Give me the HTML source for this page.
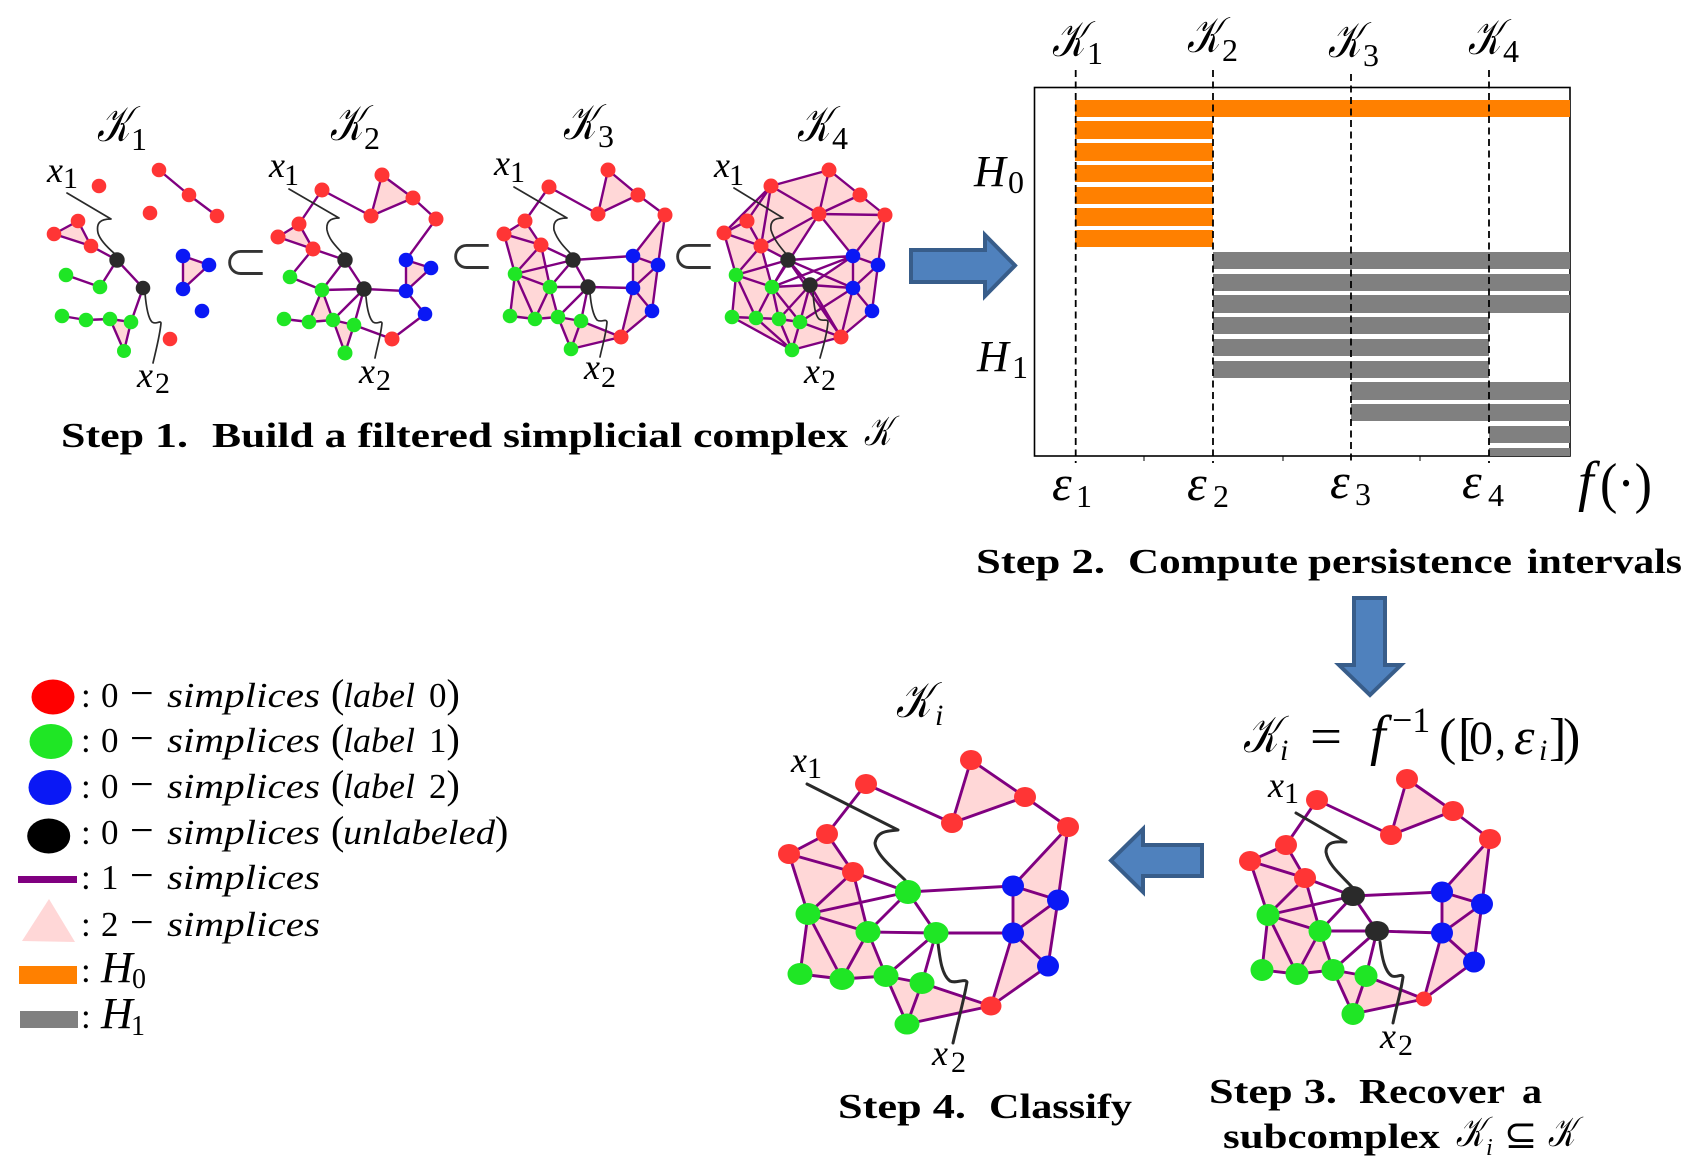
<!DOCTYPE html>
<html><head><meta charset="utf-8"><title>Persistence pipeline</title>
<style>
html,body{margin:0;padding:0;background:#fff}
svg{display:block}
text{font-family:"Liberation Serif",serif;fill:#000}
.k{font-family:"DejaVu Serif","Liberation Serif",serif;font-style:italic}
.i{font-style:italic}
.b{font-weight:bold}
.e{fill:none;stroke:#800080;stroke-width:2.4;stroke-linejoin:round;stroke-linecap:round}
.e2{fill:none;stroke:#800080;stroke-width:2.9;stroke-linejoin:round;stroke-linecap:round}
.p{fill:#ffd7d7;stroke:none}
.s{fill:none;stroke:#2a2a2a;stroke-width:1.7;stroke-linecap:round;stroke-linejoin:round}
.s2{fill:none;stroke:#2a2a2a;stroke-width:3;stroke-linecap:round;stroke-linejoin:round}
.r{fill:#ff3535}.g{fill:#1fe625}.bl{fill:#0a18f5}.d{fill:#2a2a2a}
.a{fill:#4f81bd;stroke:#385d8a;stroke-width:4}
.o{fill:#ff8000}.y{fill:#808080}
.dash{stroke:#000;stroke-width:1.8;stroke-dasharray:7 4.5;fill:none}
.t{stroke:#000;stroke-width:1;fill:none}
.u{font-family:"DejaVu Sans",sans-serif;fill:#333;stroke:#fff;stroke-width:1.2}
</style></head>
<body>
<svg width="1700" height="1172" viewBox="0 0 1700 1172" xmlns="http://www.w3.org/2000/svg">
<rect width="1700" height="1172" fill="#fff"/>

<!-- K1 -->
<path class="p" d="M78,221L54,234L91,246Z M183,256L209,265L183,289Z M110,319L131,322L124,351Z"/>
<path class="e" d="M159,170L189,195L217,216 M78,221L54,234L91,246L78,221 M91,246L117,260L143,288 M117,260L100,287L66,275 M143,288L131,322 M183,256L209,265L183,289L183,256 M62,316L86,320L110,319L131,322L124,351L110,319"/>
<path class="s" d="M67,193L111,219C100,219 96,223 98,233C100,240 108,248 115,254"/>
<path class="s" d="M145,293C146,305 148,318 152,322C156,325 160,320 161,323C160,335 156,350 153,363"/>
<g class="r"><circle cx="99" cy="186" r="7.3"/><circle cx="159" cy="170" r="7.3"/><circle cx="189" cy="195" r="7.3"/><circle cx="217" cy="216" r="7.3"/><circle cx="150" cy="213" r="7.3"/><circle cx="78" cy="221" r="7.3"/><circle cx="54" cy="234" r="7.3"/><circle cx="91" cy="246" r="7.3"/><circle cx="170" cy="339" r="7.3"/></g>
<g class="g"><circle cx="66" cy="275" r="7.3"/><circle cx="100" cy="287" r="7.3"/><circle cx="62" cy="316" r="7.3"/><circle cx="86" cy="320" r="7.3"/><circle cx="110" cy="319" r="7.3"/><circle cx="131" cy="322" r="7.3"/><circle cx="124" cy="351" r="7"/></g>
<g class="bl"><circle cx="183" cy="256" r="7.3"/><circle cx="209" cy="265" r="7.3"/><circle cx="183" cy="289" r="7.3"/><circle cx="202" cy="311" r="7.3"/></g>
<g class="d"><circle cx="117" cy="260" r="7.7"/><circle cx="143" cy="288" r="7.3"/></g>

<!-- K2 -->
<path class="p" d="M299,224L278,237L313,249Z M382,175L413,198L371,216Z M406,260L431,268L406,291Z M322,290L309,322L333,320Z M333,320L354,325L345,353Z"/>
<path class="e" d="M322,190L299,224 M322,190L371,216L382,175L413,198L371,216 M413,198L436,219L406,260L431,268L406,291L406,260 M406,291L425,314L392,339L354,325L333,320L309,322L284,319 M299,224L278,237L313,249L299,224 M313,249L345,260 M313,249L290,277L322,290L345,260L364,289L322,290 M364,289L406,291 M322,290L309,322 M322,290L333,320 M364,289L333,320 M364,289L354,325 M333,320L345,353L354,325"/>
<path class="s" d="M289,189L339,218C330,218 326,222 327,230C329,240 336,246 343,254"/>
<path class="s" d="M366,297C367,308 369,318 373,322C377,325 381,320 382,323C381,335 377,347 375,358"/>
<g class="r"><circle cx="322" cy="190" r="7.5"/><circle cx="382" cy="175" r="7.5"/><circle cx="413" cy="198" r="7.5"/><circle cx="371" cy="216" r="7.5"/><circle cx="436" cy="219" r="7.5"/><circle cx="299" cy="224" r="7.5"/><circle cx="278" cy="237" r="7.5"/><circle cx="313" cy="249" r="7.5"/><circle cx="392" cy="339" r="7.5"/></g>
<g class="g"><circle cx="290" cy="277" r="7.3"/><circle cx="322" cy="290" r="7.3"/><circle cx="284" cy="319" r="7.3"/><circle cx="309" cy="322" r="7.3"/><circle cx="333" cy="320" r="7.3"/><circle cx="354" cy="325" r="7.3"/><circle cx="345" cy="353" r="7.5"/></g>
<g class="bl"><circle cx="406" cy="260" r="7.3"/><circle cx="431" cy="268" r="7.3"/><circle cx="406" cy="291" r="7.3"/><circle cx="425" cy="314" r="7.3"/></g>
<g class="d"><circle cx="345" cy="260" r="7.7"/><circle cx="364" cy="289" r="7.7"/></g>

<!-- K3 -->
<path class="p" d="M608,170L638,195L598,214Z M665,215L633,256L658,265Z M633,256L658,265L633,288Z M658,265L652,311L633,288Z M633,288L652,311L621,337Z M525,221L504,234L541,245Z M504,234L515,274L541,245Z M541,245L515,274L550,287Z M515,274L550,287L535,319Z M515,274L510,316L535,319Z M550,287L535,319L558,317Z M558,317L581,321L571,349Z M581,321L571,349L621,337Z"/>
<path class="e" d="M549,187L525,221 M549,187L598,214L608,170L638,195L598,214 M638,195L665,215L633,256L658,265L665,215 M633,256L633,288L658,265L652,311L633,288L621,337L652,311 M525,221L504,234L541,245L525,221 M504,234L515,274L541,245L573,260L515,274L550,287L541,245 M550,287L573,260L588,287L550,287 M515,274L510,316L535,319L515,274 M535,319L550,287L558,317L535,319 M573,260L633,256 M588,287L633,288 M588,287L558,317 M588,287L581,321L571,349L558,317L581,321L621,337L571,349"/>
<path class="s" d="M514,187L567,218C556,218 553,222 554,230C557,240 565,248 572,255"/>
<path class="s" d="M590,293C591,305 593,315 597,320C601,323 606,318 607,322C606,335 602,347 600,357"/>
<g class="r"><circle cx="549" cy="187" r="7.5"/><circle cx="608" cy="170" r="7.5"/><circle cx="638" cy="195" r="7.5"/><circle cx="598" cy="214" r="7.5"/><circle cx="665" cy="215" r="7.5"/><circle cx="525" cy="221" r="7.5"/><circle cx="504" cy="234" r="7.5"/><circle cx="541" cy="245" r="7.5"/><circle cx="621" cy="337" r="7.5"/></g>
<g class="g"><circle cx="515" cy="274" r="7.3"/><circle cx="550" cy="287" r="7.3"/><circle cx="510" cy="316" r="7.3"/><circle cx="535" cy="319" r="7.3"/><circle cx="558" cy="317" r="7.3"/><circle cx="581" cy="321" r="7.3"/><circle cx="571" cy="349" r="7.3"/></g>
<g class="bl"><circle cx="633" cy="256" r="7.3"/><circle cx="658" cy="265" r="7.3"/><circle cx="633" cy="288" r="7.3"/><circle cx="652" cy="311" r="7.3"/></g>
<g class="d"><circle cx="573" cy="260" r="7.7"/><circle cx="588" cy="287" r="7.7"/></g>

<!-- K4 -->
<path class="p" d="M771,186L829,170L819,214Z M829,170L860,195L819,214Z M860,195L885,215L819,214Z M819,214L885,215L853,256Z M885,215L853,256L878,265Z M853,256L878,265L853,288Z M878,265L872,311L853,288Z M853,288L872,311L841,337Z M771,186L819,214L761,246Z M771,186L724,233L761,246Z M819,214L761,246L788,260Z M724,233L736,275L761,246Z M761,246L736,275L772,287Z M736,275L772,287L756,318Z M736,275L732,317L756,318Z M732,317L756,318L792,350Z M756,318L779,319L792,350Z M772,287L756,318L779,319Z M779,319L800,322L792,350Z M800,322L792,350L841,337Z M772,287L810,285L779,319Z M810,285L800,322L841,337Z M810,285L853,288L841,337Z M810,285L853,256L853,288Z M779,319L810,285L800,322Z"/>
<path class="e" d="M771,186L829,170L860,195L885,215L853,256L878,265L885,215 M771,186L819,214L829,170 M860,195L819,214L885,215 M819,214L853,256 M819,214L772,287 M819,214L761,246 M771,186L724,233 M771,186L747,221 M771,186L761,246 M747,221L724,233L761,246L747,221 M724,233L736,275L761,246L788,260L736,275L772,287L761,246 M772,287L788,260L810,285L772,287 M788,260L853,256L853,288L878,265L872,311L853,288L841,337L872,311 M772,287L853,256 M810,285L853,256 M788,260L853,288 M810,285L853,288 M788,260L841,337 M736,275L732,317L756,318L736,275 M756,318L772,287L779,319L756,318 M772,287L800,322 M810,285L779,319 M810,285L800,322 M810,285L841,337 M853,288L800,322 M779,319L800,322L792,350L779,319 M732,317L792,350L756,318 M800,322L841,337L792,350"/>
<path class="s" d="M734,188L783,218C773,218 770,222 771,230C774,240 781,248 787,255"/>
<path class="s" d="M813,293C814,305 815,315 819,319C823,322 827,318 828,322C827,335 823,347 820,358"/>
<g class="r"><circle cx="771" cy="186" r="7.5"/><circle cx="829" cy="170" r="7.5"/><circle cx="860" cy="195" r="7.5"/><circle cx="819" cy="214" r="7.5"/><circle cx="885" cy="215" r="7.5"/><circle cx="747" cy="221" r="7.5"/><circle cx="724" cy="233" r="7.5"/><circle cx="761" cy="246" r="7.5"/><circle cx="841" cy="337" r="7.5"/></g>
<g class="g"><circle cx="736" cy="275" r="7.3"/><circle cx="772" cy="287" r="7.3"/><circle cx="732" cy="317" r="7.3"/><circle cx="756" cy="318" r="7.3"/><circle cx="779" cy="319" r="7.3"/><circle cx="800" cy="322" r="7.3"/><circle cx="792" cy="350" r="7.3"/></g>
<g class="bl"><circle cx="853" cy="256" r="7.3"/><circle cx="878" cy="265" r="7.3"/><circle cx="853" cy="288" r="7.3"/><circle cx="872" cy="311" r="7.3"/></g>
<g class="d"><circle cx="788" cy="260" r="7.7"/><circle cx="810" cy="285" r="7.7"/></g>

<!-- top labels -->
<text class="k" x="97" y="141" font-size="50" textLength="33" lengthAdjust="spacingAndGlyphs">𝒦</text><text x="131" y="150" font-size="32">1</text>
<text class="k" x="330" y="140" font-size="50" textLength="33" lengthAdjust="spacingAndGlyphs">𝒦</text><text x="364" y="149" font-size="32">2</text>
<text class="k" x="563" y="139" font-size="50" textLength="33" lengthAdjust="spacingAndGlyphs">𝒦</text><text x="598" y="147" font-size="32">3</text>
<text class="k" x="797" y="141" font-size="50" textLength="33" lengthAdjust="spacingAndGlyphs">𝒦</text><text x="832" y="149" font-size="32">4</text>

<text class="i" x="47" y="182" font-size="36">x</text><text x="63" y="188" font-size="30">1</text>
<text class="i" x="137" y="387" font-size="36">x</text><text x="155" y="393" font-size="30">2</text>
<text class="i" x="269" y="177" font-size="36">x</text><text x="284" y="185" font-size="30">1</text>
<text class="i" x="359" y="383" font-size="36">x</text><text x="376" y="390" font-size="30">2</text>
<text class="i" x="494" y="175" font-size="36">x</text><text x="510" y="182" font-size="30">1</text>
<text class="i" x="584" y="379" font-size="36">x</text><text x="601" y="387" font-size="30">2</text>
<text class="i" x="714" y="177" font-size="36">x</text><text x="729" y="185" font-size="30">1</text>
<text class="i" x="804" y="383" font-size="36">x</text><text x="821" y="390" font-size="30">2</text>

<text class="u" x="222" y="280" font-size="56">⊂</text>
<text class="u" x="448" y="274" font-size="56">⊂</text>
<text class="u" x="670" y="274" font-size="56">⊂</text>

<text class="b" x="61" y="447" font-size="35" textLength="127" lengthAdjust="spacingAndGlyphs">Step 1.</text>
<text class="b" x="212" y="447" font-size="35" textLength="636" lengthAdjust="spacingAndGlyphs">Build a filtered simplicial complex</text>
<text class="k" x="864" y="445" font-size="42" textLength="27" lengthAdjust="spacingAndGlyphs">𝒦</text>

<!-- right arrow -->
<polygon class="a" points="911,250 985,250 985,235 1015,265.5 985,296 985,282 911,282"/>

<!-- chart -->
<rect x="1034.5" y="87.5" width="535.5" height="368.5" fill="#fff" stroke="#000" stroke-width="1.6"/>
<g class="o">
<rect x="1075" y="100" width="495" height="17"/>
<rect x="1075" y="121" width="138" height="18"/>
<rect x="1075" y="143" width="138" height="18"/>
<rect x="1075" y="165" width="138" height="17"/>
<rect x="1075" y="187" width="138" height="17"/>
<rect x="1075" y="208" width="138" height="18"/>
<rect x="1075" y="230" width="138" height="17"/>
</g>
<g class="y">
<rect x="1213" y="252" width="357" height="17"/>
<rect x="1213" y="274" width="357" height="17"/>
<rect x="1213" y="295" width="357" height="18"/>
<rect x="1213" y="317" width="276" height="17"/>
<rect x="1213" y="339" width="276" height="17"/>
<rect x="1213" y="361" width="276" height="17"/>
<rect x="1351" y="382" width="219" height="18"/>
<rect x="1351" y="404" width="219" height="17"/>
<rect x="1489" y="426" width="81" height="17"/>
<rect x="1489" y="448" width="81" height="8"/>
</g>
<path class="dash" d="M1075.7,70V463 M1213,70V463 M1351,74V463 M1489,70V463"/>
<path class="t" d="M1144,456V461 M1283,456V461 M1420,456V461"/>

<text class="k" x="1052" y="56" font-size="50" textLength="33" lengthAdjust="spacingAndGlyphs">𝒦</text><text x="1087" y="64" font-size="32">1</text>
<text class="k" x="1187" y="52" font-size="50" textLength="33" lengthAdjust="spacingAndGlyphs">𝒦</text><text x="1222" y="61" font-size="32">2</text>
<text class="k" x="1328" y="57" font-size="50" textLength="33" lengthAdjust="spacingAndGlyphs">𝒦</text><text x="1363" y="66" font-size="32">3</text>
<text class="k" x="1468" y="54" font-size="50" textLength="33" lengthAdjust="spacingAndGlyphs">𝒦</text><text x="1503" y="62" font-size="32">4</text>

<text class="i" x="974" y="186" font-size="44">H</text><text x="1008" y="193" font-size="32">0</text>
<text class="i" x="977" y="371" font-size="44">H</text><text x="1012" y="378" font-size="32">1</text>

<text class="i" x="1052" y="500" font-size="50">ε</text><text x="1076" y="507" font-size="32">1</text>
<text class="i" x="1187" y="500" font-size="50">ε</text><text x="1213" y="507" font-size="32">2</text>
<text class="i" x="1330" y="498" font-size="50">ε</text><text x="1355" y="505" font-size="32">3</text>
<text class="i" x="1462" y="498" font-size="50">ε</text><text x="1488" y="506" font-size="32">4</text>
<text class="i" x="1578" y="500" font-size="56">f</text><text x="1600" y="502" font-size="56" textLength="52" lengthAdjust="spacingAndGlyphs">(·)</text>

<text class="b" x="976" y="573" font-size="35" textLength="129" lengthAdjust="spacingAndGlyphs">Step 2.</text>
<text class="b" x="1128" y="573" font-size="35" textLength="170" lengthAdjust="spacingAndGlyphs">Compute</text>
<text class="b" x="1308" y="573" font-size="35" textLength="204" lengthAdjust="spacingAndGlyphs">persistence</text>
<text class="b" x="1527" y="573" font-size="35" textLength="155" lengthAdjust="spacingAndGlyphs">intervals</text>

<!-- down arrow -->
<polygon class="a" points="1354,598 1354,665 1339,665 1370,695 1401,665 1385,665 1385,598"/>

<!-- formula -->
<text class="k" x="1243" y="752" font-size="52" textLength="35" lengthAdjust="spacingAndGlyphs">𝒦</text><text class="i" x="1280" y="760" font-size="30">i</text>
<text x="1310" y="754" font-size="52" textLength="32" lengthAdjust="spacingAndGlyphs">=</text>
<text class="i" x="1370" y="754" font-size="56">f</text>
<text x="1392" y="732" font-size="36">−1</text>
<text x="1439" y="754" font-size="52">(</text>
<text x="1458" y="754" font-size="52">[</text>
<text x="1469" y="754" font-size="48">0</text>
<text x="1495" y="754" font-size="44">,</text>
<text class="i" x="1514" y="754" font-size="52">ε</text>
<text class="i" x="1539" y="760" font-size="30">i</text>
<text x="1549" y="754" font-size="52">]</text>
<text x="1563" y="754" font-size="52">)</text>

<!-- Step 3 complex -->
<path class="p" d="M1407,779L1453,811L1391,835Z M1490,839L1442,892L1482,904Z M1442,892L1482,904L1442,933Z M1482,904L1474,962L1442,933Z M1442,933L1474,962L1424,999Z M1286,845L1250,861L1305,878Z M1250,861L1268,915L1305,878Z M1305,878L1268,915L1320,931Z M1268,915L1320,931L1297,974Z M1268,915L1262,970L1297,974Z M1320,931L1297,974L1333,970Z M1333,970L1366,976L1353,1014Z M1366,976L1353,1014L1424,999Z"/>
<path class="e2" d="M1317,800L1286,845 M1317,800L1391,835L1407,779L1453,811L1391,835 M1453,811L1490,839L1442,892L1482,904L1490,839 M1442,892L1442,933L1482,904L1474,962L1442,933L1424,999L1474,962 M1286,845L1250,861L1305,878L1286,845 M1250,861L1268,915L1305,878L1353,896L1268,915L1320,931L1305,878 M1320,931L1353,896L1377,931L1320,931 M1268,915L1262,970L1297,974L1268,915 M1297,974L1320,931L1333,970L1297,974 M1353,896L1442,892 M1377,931L1442,933 M1377,931L1333,970 M1377,931L1366,976L1353,1014L1333,970L1366,976L1424,999L1353,1014"/>
<path class="s2" d="M1296,813L1346,842C1335,841 1326,842 1326,852C1328,865 1342,876 1352,887"/>
<path class="s2" d="M1380,942C1382,958 1385,972 1392,976C1397,978 1402,973 1403,977C1401,992 1396,1008 1393,1023"/>
<g class="r"><ellipse cx="1317" cy="800" rx="11" ry="10"/><ellipse cx="1407" cy="779" rx="11" ry="10"/><ellipse cx="1453" cy="811" rx="11" ry="10"/><ellipse cx="1391" cy="835" rx="11" ry="10"/><ellipse cx="1490" cy="839" rx="11" ry="10"/><ellipse cx="1286" cy="845" rx="11" ry="10"/><ellipse cx="1250" cy="861" rx="11" ry="10"/><ellipse cx="1305" cy="878" rx="11" ry="10"/><ellipse cx="1424" cy="999" rx="8" ry="7.5"/></g>
<g class="g"><ellipse cx="1268" cy="915" rx="11.5" ry="11"/><ellipse cx="1320" cy="931" rx="11.5" ry="11"/><ellipse cx="1262" cy="970" rx="11.5" ry="11"/><ellipse cx="1297" cy="974" rx="11.5" ry="11"/><ellipse cx="1333" cy="970" rx="11.5" ry="11"/><ellipse cx="1366" cy="976" rx="11.5" ry="11"/><ellipse cx="1353" cy="1014" rx="11.5" ry="11"/></g>
<g class="bl"><ellipse cx="1442" cy="892" rx="11" ry="10.5"/><ellipse cx="1482" cy="904" rx="11" ry="10.5"/><ellipse cx="1442" cy="933" rx="11" ry="10.5"/><ellipse cx="1474" cy="962" rx="11" ry="10.5"/></g>
<g class="d"><ellipse cx="1353" cy="896" rx="12" ry="10"/><ellipse cx="1377" cy="931" rx="12" ry="10"/></g>
<text class="i" x="1268" y="797" font-size="36">x</text><text x="1284" y="803" font-size="30">1</text>
<text class="i" x="1380" y="1048" font-size="36">x</text><text x="1398" y="1055" font-size="30">2</text>
<text class="b" x="1209" y="1103" font-size="35" textLength="128" lengthAdjust="spacingAndGlyphs">Step 3.</text>
<text class="b" x="1359" y="1103" font-size="35" textLength="146" lengthAdjust="spacingAndGlyphs">Recover</text>
<text class="b" x="1522" y="1103" font-size="35" textLength="20" lengthAdjust="spacingAndGlyphs">a</text>
<text class="b" x="1223" y="1148" font-size="35" textLength="217" lengthAdjust="spacingAndGlyphs">subcomplex</text>
<text class="k" x="1456" y="1146" font-size="42" textLength="28" lengthAdjust="spacingAndGlyphs">𝒦</text><text class="i" x="1486" y="1155" font-size="24">i</text>
<text style="font-family:'DejaVu Sans',sans-serif" x="1504" y="1148" font-size="40">⊆</text>
<text class="k" x="1548" y="1146" font-size="42" textLength="27" lengthAdjust="spacingAndGlyphs">𝒦</text>

<!-- left arrow -->
<polygon class="a" points="1202,845 1143,845 1143,829 1111,860.5 1143,892 1143,876 1202,876"/>

<!-- Step 4 complex -->
<text class="k" x="896" y="717" font-size="50" textLength="35" lengthAdjust="spacingAndGlyphs">𝒦</text><text class="i" x="935" y="725" font-size="30">i</text>
<path class="p" d="M971,760L1025,797L952,823Z M1068,827L1013,886L1058,900Z M1013,886L1058,900L1013,933Z M1058,900L1048,966L1013,933Z M1013,933L1048,966L991,1006Z M827,834L789,854L853,872Z M789,854L808,914L853,872Z M853,872L808,914L868,932Z M808,914L868,932L842,979Z M808,914L800,974L842,979Z M868,932L842,979L886,976Z M886,976L922,983L907,1024Z M922,983L907,1024L991,1006Z"/>
<path class="e2" d="M866,784L827,834 M866,784L952,823L971,760L1025,797L952,823 M1025,797L1068,827L1013,886L1058,900L1068,827 M1013,886L1013,933L1058,900L1048,966L1013,933L991,1006L1048,966 M827,834L789,854L853,872L827,834 M789,854L808,914L853,872L908,892L808,914L868,932L853,872 M868,932L908,892L936,933L868,932 M808,914L800,974L842,979L808,914 M842,979L868,932L886,976L842,979 M908,892L1013,886 M936,933L1013,933 M936,933L886,976 M936,933L922,983L907,1024L886,976L922,983L991,1006L907,1024"/>
<path class="s2" d="M807,784L898,830C885,831 877,832 875,843C876,855 895,870 905,880"/>
<path class="s2" d="M938,943C940,960 942,975 950,981C956,984 965,978 967,982C964,1000 957,1025 953,1043"/>
<g class="r"><ellipse cx="866" cy="784" rx="11" ry="10"/><ellipse cx="971" cy="760" rx="11" ry="10"/><ellipse cx="1025" cy="797" rx="11" ry="10"/><ellipse cx="952" cy="823" rx="11" ry="10"/><ellipse cx="1068" cy="827" rx="11" ry="10"/><ellipse cx="827" cy="834" rx="11" ry="10"/><ellipse cx="789" cy="854" rx="11" ry="10"/><ellipse cx="853" cy="872" rx="11" ry="10"/><ellipse cx="991" cy="1006" rx="10.5" ry="9.5"/></g>
<g class="g"><ellipse cx="908" cy="892" rx="13" ry="12"/><ellipse cx="936" cy="933" rx="12.5" ry="11"/><ellipse cx="808" cy="914" rx="12.5" ry="11"/><ellipse cx="868" cy="932" rx="12.5" ry="11"/><ellipse cx="800" cy="974" rx="12.5" ry="11"/><ellipse cx="842" cy="979" rx="12.5" ry="11"/><ellipse cx="886" cy="976" rx="12.5" ry="11"/><ellipse cx="922" cy="983" rx="12.5" ry="11"/><ellipse cx="907" cy="1024" rx="12.5" ry="10.5"/></g>
<g class="bl"><ellipse cx="1013" cy="886" rx="11" ry="10.5"/><ellipse cx="1058" cy="900" rx="11" ry="10.5"/><ellipse cx="1013" cy="933" rx="11" ry="10.5"/><ellipse cx="1048" cy="966" rx="11" ry="10.5"/></g>
<text class="i" x="791" y="772" font-size="36">x</text><text x="807" y="778" font-size="30">1</text>
<text class="i" x="932" y="1065" font-size="36">x</text><text x="951" y="1072" font-size="30">2</text>
<text class="b" x="838" y="1118" font-size="35" textLength="128" lengthAdjust="spacingAndGlyphs">Step 4.</text>
<text class="b" x="989" y="1118" font-size="35" textLength="143" lengthAdjust="spacingAndGlyphs">Classify</text>

<!-- legend -->
<ellipse cx="53" cy="697" rx="21.5" ry="17.5" fill="#ff0000"/>
<ellipse cx="51" cy="741.5" rx="21.5" ry="17.5" fill="#1fe625"/>
<ellipse cx="50" cy="787.5" rx="21.5" ry="17.5" fill="#0a18f5"/>
<ellipse cx="48.7" cy="836" rx="21.5" ry="17.5" fill="#000"/>
<rect x="18" y="876" width="59" height="7" fill="#800080"/>
<polygon points="49,899 75,942 22,941" fill="#ffd7d7"/>
<rect x="19" y="966" width="58" height="18" fill="#ff8000"/>
<rect x="20" y="1011" width="58" height="17" fill="#808080"/>

<g font-size="35">
<text x="81" y="707">:</text><text x="101" y="707">0</text><text x="130" y="707" font-size="42">−</text><text class="i" x="167" y="707" textLength="153" lengthAdjust="spacingAndGlyphs">simplices</text><text x="331" y="707" font-size="40">(</text><text class="i" x="343" y="707" textLength="72" lengthAdjust="spacingAndGlyphs">label</text><text x="429" y="707">0<tspan font-size="40">)</tspan></text>
<text x="81" y="752">:</text><text x="101" y="752">0</text><text x="130" y="752" font-size="42">−</text><text class="i" x="167" y="752" textLength="153" lengthAdjust="spacingAndGlyphs">simplices</text><text x="331" y="752" font-size="40">(</text><text class="i" x="343" y="752" textLength="72" lengthAdjust="spacingAndGlyphs">label</text><text x="429" y="752">1<tspan font-size="40">)</tspan></text>
<text x="81" y="798">:</text><text x="101" y="798">0</text><text x="130" y="798" font-size="42">−</text><text class="i" x="167" y="798" textLength="153" lengthAdjust="spacingAndGlyphs">simplices</text><text x="331" y="798" font-size="40">(</text><text class="i" x="343" y="798" textLength="72" lengthAdjust="spacingAndGlyphs">label</text><text x="429" y="798">2<tspan font-size="40">)</tspan></text>
<text x="81" y="844">:</text><text x="101" y="844">0</text><text x="130" y="844" font-size="42">−</text><text class="i" x="167" y="844" textLength="153" lengthAdjust="spacingAndGlyphs">simplices</text><text x="331" y="844" font-size="40">(</text><text class="i" x="343" y="844" textLength="152" lengthAdjust="spacingAndGlyphs">unlabeled</text><text x="495" y="844" font-size="40">)</text>
<text x="81" y="889">:</text><text x="101" y="889">1</text><text x="130" y="889" font-size="42">−</text><text class="i" x="167" y="889" textLength="153" lengthAdjust="spacingAndGlyphs">simplices</text>
<text x="81" y="936">:</text><text x="101" y="936">2</text><text x="130" y="936" font-size="42">−</text><text class="i" x="167" y="936" textLength="153" lengthAdjust="spacingAndGlyphs">simplices</text>
<text x="81" y="982">:</text><text class="i" x="101" y="982" font-size="44">H</text><text x="132" y="988" font-size="28">0</text>
<text x="81" y="1028">:</text><text class="i" x="101" y="1028" font-size="44">H</text><text x="131" y="1035" font-size="28">1</text>
</g>
</svg>
</body></html>
